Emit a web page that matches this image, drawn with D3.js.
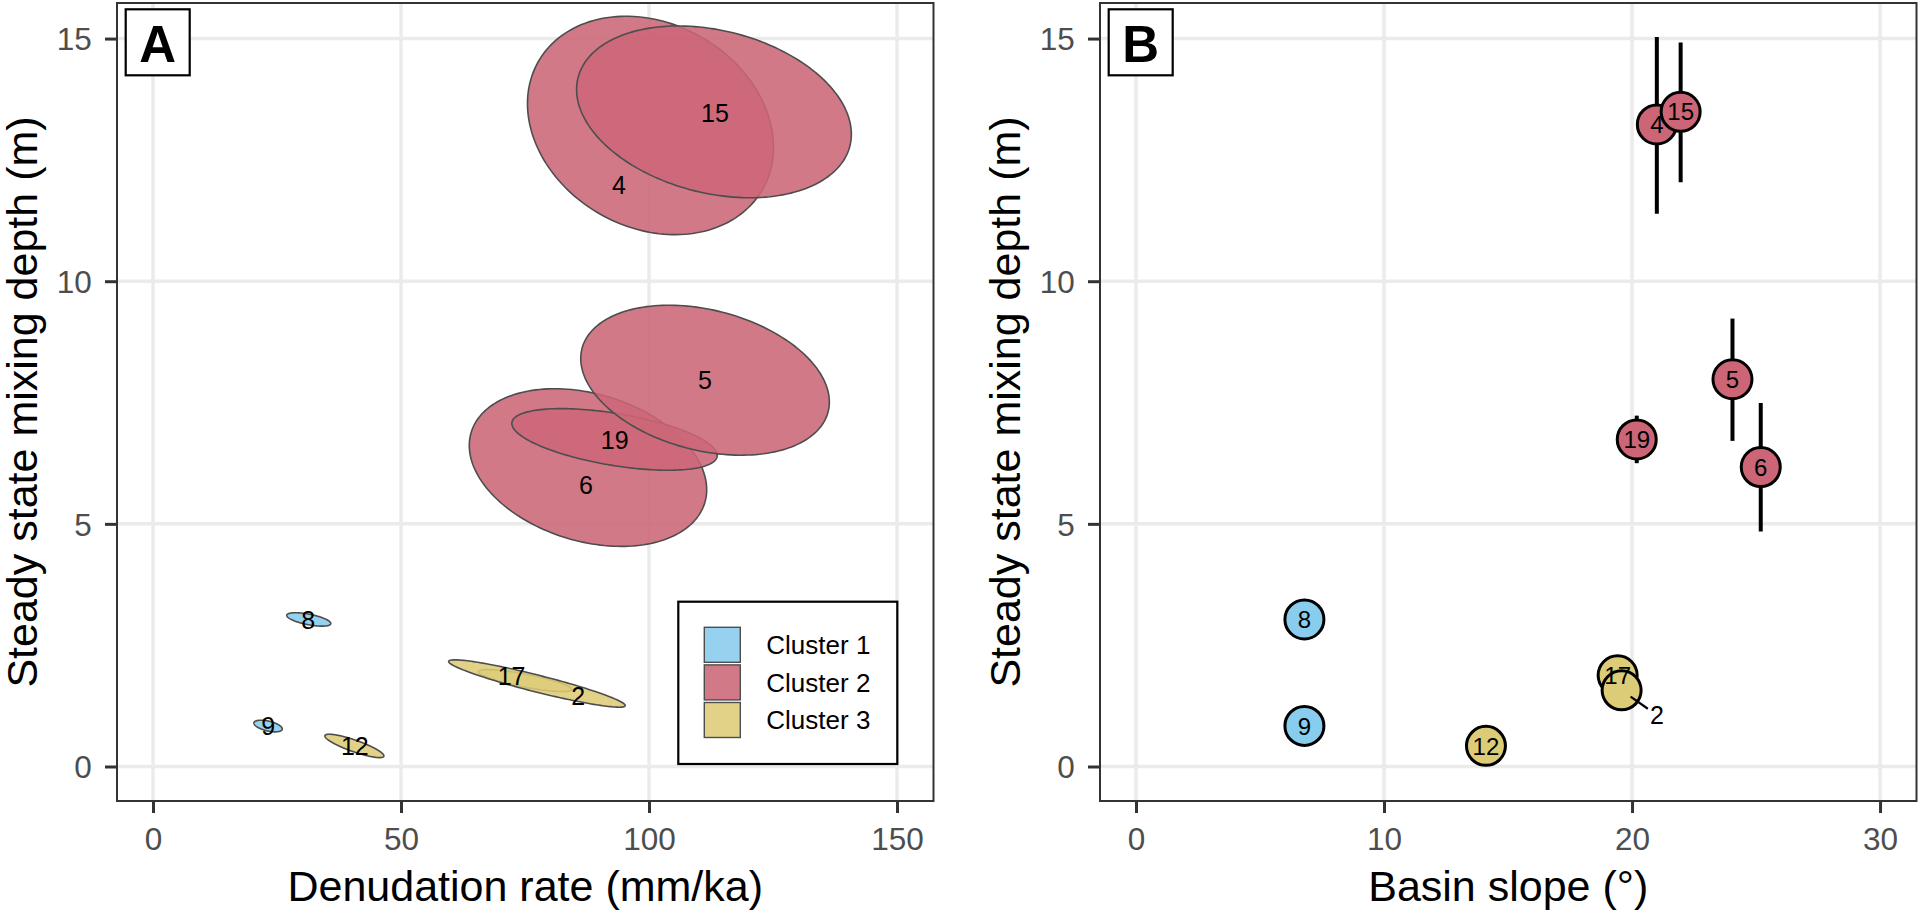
<!DOCTYPE html>
<html lang="en">
<head>
    <meta charset="UTF-8">
    <title>Mixing depth vs denudation rate and basin slope</title>
    <script src="https://d3js.org/d3.v7.min.js"></script>
    <style>
        body { margin: 0; background: #fff; font-family: "Liberation Sans", Arial, sans-serif; }
        svg { display: block; }
        .tick text { fill: #4d4d4d; font-size: 31.5px; }
        .tick line { stroke: #333333; stroke-width: 3px; }
        .axis-title { font-size: 43px; fill: #000; }
        .grid line { stroke: #ebebeb; stroke-width: 3.5px; }
    </style>
</head>
<body>
<svg id="chart" width="1920" height="912"></svg>
<script>
    // samples, in drawing order
    const samples  = ["8", "9", "12", "17", "2", "4", "15", "6", "19", "5"];
    const clusters = [1, 1, 3, 3, 3, 2, 2, 2, 2, 2];
    const clusterNames = ["Cluster 1", "Cluster 2", "Cluster 3"];
    const clusterColors = ["#88CCEE", "#CC6677", "#DDCC77"];

    // panel A: uncertainty ellipses (centre, half extents, correlation)
    const denudation = [31.4, 23.2, 40.6, 75.0, 77.4, 100.3, 113.1, 87.7, 93.05, 111.3];
    const depthA     = [3.03, 0.834, 0.424, 1.77, 1.71, 13.21, 13.49, 6.16, 6.74, 7.96];
    const halfRate   = [4.44, 2.86, 5.95, 9.42, 17.8, 24.8, 27.7, 23.93, 20.7, 25.06];
    const halfDepth  = [0.138, 0.12, 0.241, 0.227, 0.488, 2.25, 1.77, 1.624, 0.635, 1.545];
    const corr       = [-0.6, -0.5, -0.85, -0.8, -0.93, -0.2, -0.26, -0.28, -0.52, -0.29];
    // panel A label positions (data units)
    const labelRate  = [31.3, 23.25, 40.7, 72.3, 85.75, 93.95, 113.3, 87.3, 93.1, 111.3];
    const labelDepth = [3.01, 0.83, 0.42, 1.86, 1.45, 11.98, 13.46, 5.80, 6.72, 7.96];

    // panel B: basin slope vs depth with error bars
    const slope   = [6.79, 6.79, 14.11, 19.42, 19.58, 21.0, 21.96, 25.19, 20.19, 24.05];
    const depthB  = [3.03, 0.837, 0.425, 1.88, 1.57, 13.23, 13.49, 6.17, 6.74, 7.98];
    const depthLo = [2.90, 0.72, 0.20, 1.66, 1.25, 11.39, 12.04, 4.84, 6.25, 6.71];
    const depthHi = [3.17, 0.95, 0.65, 2.00, 1.85, 15.03, 14.92, 7.49, 7.23, 9.23];
    // repelled label for sample 2 (others sit on their point)
    const repelSample = "2";
    const repelSlope = 21.0, repelDepth = 1.06;

    const ticksA = [0, 50, 100, 150];
    const ticksB = [0, 10, 20, 30];
    const ticksY = [0, 5, 10, 15];

    const svg = d3.select("#chart");

    const yScale = d3.scaleLinear().domain([-0.711, 15.733]).range([801, 3]);
    const xA = d3.scaleLinear().domain([-7.26, 157.36]).range([117, 933.5]);
    const xB = d3.scaleLinear().domain([-1.452, 31.47]).range([1100, 1916.5]);

    const data = samples.map((s, i) => ({
        id: s, cluster: clusters[i],
        rate: denudation[i], dA: depthA[i], a: halfRate[i], b: halfDepth[i], rho: corr[i],
        lx: labelRate[i], ly: labelDepth[i],
        slope: slope[i], dB: depthB[i], lo: depthLo[i], hi: depthHi[i]
    }));
    const color = c => clusterColors[c - 1];

    function drawFrame(x, ticksX, xTitle, tag) {
        const [left, right] = x.range();
        const [bottom, top] = yScale.range();

        const grid = svg.append("g").attr("class", "grid");
        grid.selectAll(".gx").data(ticksX).enter().append("line")
            .attr("x1", d => x(d)).attr("x2", d => x(d))
            .attr("y1", top).attr("y2", bottom);
        grid.selectAll(".gy").data(ticksY).enter().append("line")
            .attr("x1", left).attr("x2", right)
            .attr("y1", d => yScale(d)).attr("y2", d => yScale(d));

        svg.append("g")
            .attr("transform", `translate(0,${bottom})`)
            .call(d3.axisBottom(x).tickValues(ticksX).tickSize(12).tickPadding(14.6))
            .call(g => g.select(".domain").remove())
            .selectAll("text").attr("font-family", null).attr("font-size", null);

        svg.append("g")
            .attr("transform", `translate(${left},0)`)
            .call(d3.axisLeft(yScale).tickValues(ticksY).tickSize(12).tickPadding(13.3))
            .call(g => g.select(".domain").remove())
            .selectAll("text").attr("font-family", null).attr("font-size", null).attr("dy", "0.36em");

        svg.append("text").attr("class", "axis-title")
            .attr("x", (left + right) / 2).attr("y", 901)
            .attr("text-anchor", "middle").text(xTitle);

        svg.append("text").attr("class", "axis-title")
            .attr("transform", `translate(${left - 80},${(top + bottom) / 2}) rotate(-90)`)
            .attr("text-anchor", "middle").text("Steady state mixing depth (m)");

        return { left, right, top, bottom, tag };
    }

    function drawBorder(p) {
        svg.append("rect")
            .attr("x", p.left).attr("y", p.top)
            .attr("width", p.right - p.left).attr("height", p.bottom - p.top)
            .attr("fill", "none").attr("stroke", "#333333").attr("stroke-width", 2);

        svg.append("rect")
            .attr("x", p.left + 8.7).attr("y", p.top + 6.3)
            .attr("width", 64).attr("height", 66)
            .attr("fill", "#fff").attr("stroke", "#000").attr("stroke-width", 2.2);
        svg.append("text")
            .attr("x", p.left + 8.7 + 32).attr("y", p.top + 58.5)
            .attr("text-anchor", "middle")
            .style("font-size", "51px").style("font-weight", "bold")
            .text(p.tag);
    }

    // ---- Panel A ----
    const pA = drawFrame(xA, ticksA, "Denudation rate (mm/ka)", "A");

    const ellipseLine = d3.line().curve(d3.curveLinearClosed)
        .x(p => xA(p[0])).y(p => yScale(p[1]));
    const angles = d3.range(0, 2 * Math.PI, Math.PI / 90);

    svg.append("g").selectAll("path").data(data).enter().append("path")
        .attr("d", d => ellipseLine(angles.map(t => [
            d.rate + d.a * Math.cos(t),
            d.dA + d.b * (d.rho * Math.cos(t) + Math.sqrt(1 - d.rho * d.rho) * Math.sin(t))
        ])))
        .attr("fill", d => color(d.cluster)).attr("fill-opacity", 0.88)
        .attr("stroke", "#4d4d4d").attr("stroke-width", 1.6);

    svg.append("g").selectAll("text").data(data).enter().append("text")
        .attr("x", d => xA(d.lx)).attr("y", d => yScale(d.ly))
        .attr("dy", "0.36em").attr("text-anchor", "middle")
        .style("font-size", "25px")
        .text(d => d.id);

    // legend
    const legend = svg.append("g").attr("transform", "translate(678.3,601.7)");
    legend.append("rect").attr("width", 219).attr("height", 162.3)
        .attr("fill", "#fff").attr("stroke", "#000").attr("stroke-width", 2.2);
    const item = legend.selectAll(".item").data(clusterNames).enter().append("g")
        .attr("transform", (d, i) => `translate(26,${25.6 + i * 37.6})`);
    item.append("rect").attr("width", 36).attr("height", 35)
        .attr("fill", (d, i) => clusterColors[i]).attr("fill-opacity", 0.88)
        .attr("stroke", "#4d4d4d").attr("stroke-width", 1.4);
    item.append("text").attr("x", 62).attr("y", 17.5).attr("dy", "0.36em")
        .style("font-size", "26px").text(d => d);

    drawBorder(pA);

    // ---- Panel B ----
    const pB = drawFrame(xB, ticksB, "Basin slope (°)", "B");

    svg.append("g").selectAll("line").data(data).enter().append("line")
        .attr("x1", d => xB(d.slope)).attr("x2", d => xB(d.slope))
        .attr("y1", d => yScale(d.lo)).attr("y2", d => yScale(d.hi))
        .attr("stroke", "#000").attr("stroke-width", 4);

    const rep = data.find(d => d.id === repelSample);
    const px = xB(rep.slope), py = yScale(rep.dB);
    const qx = xB(repelSlope), qy = yScale(repelDepth);
    const len = Math.hypot(qx - px, qy - py);
    const ux = (qx - px) / len, uy = (qy - py) / len;

    const pts = svg.append("g").selectAll("g").data(data).enter().append("g");
    pts.append("circle")
        .attr("cx", d => xB(d.slope)).attr("cy", d => yScale(d.dB))
        .attr("r", 19.5)
        .attr("fill", d => color(d.cluster))
        .attr("stroke", "#000").attr("stroke-width", 3);

    svg.append("line")
        .attr("x1", px + ux * 11).attr("y1", py + uy * 11)
        .attr("x2", qx - ux * 11).attr("y2", qy - uy * 11)
        .attr("stroke", "#000").attr("stroke-width", 2.2);

    svg.append("g").selectAll("text").data(data).enter().append("text")
        .attr("x", d => d.id === repelSample ? qx : xB(d.slope))
        .attr("y", d => d.id === repelSample ? qy : yScale(d.dB))
        .attr("dy", "0.36em").attr("text-anchor", "middle")
        .style("font-size", d => d.id === repelSample ? "25px" : "24px")
        .text(d => d.id);

    drawBorder(pB);
</script>
</body>
</html>
